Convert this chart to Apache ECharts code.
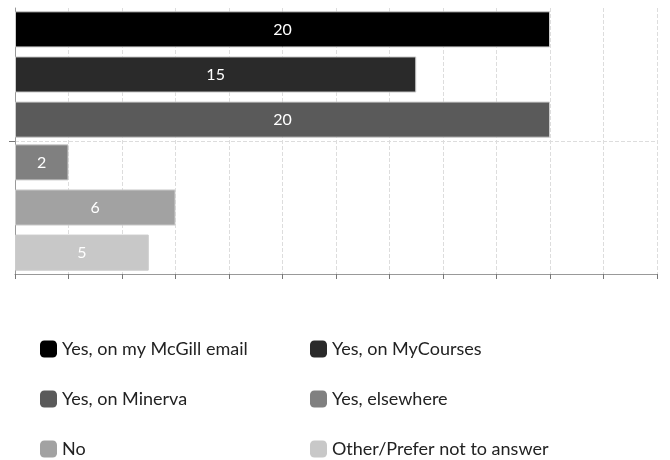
<!DOCTYPE html>
<html>
<head>
<meta charset="utf-8">
<script src="https://cdn.jsdelivr.net/npm/echarts@6/dist/echarts.min.js"></script>
<style>html,body{margin:0;padding:0;background:#fff}#c{width:670px;height:460px}</style>
</head>
<body>
<div id="c"></div>
<script>
const categories = ['Group A', 'Group B'];
const seriesNames = ['Yes, on my McGill email', 'Yes, on MyCourses', 'Yes, on Minerva', 'Yes, elsewhere', 'No', 'Other/Prefer not to answer'];
const mcgillEmail = [20, null];
const myCourses = [15, null];
const minerva = [20, null];
const elsewhere = [null, 2];
const no = [null, 6];
const other = [null, 5];
const xTicks = [0, 2, 4, 6, 8, 10, 12, 14, 16, 18, 20, 22, 24];

const colors = ['#000000', '#2a2a2a', '#5a5a5a', '#808080', '#a2a2a2', '#c8c8c8'];
const values = [mcgillEmail, myCourses, minerva, elsewhere, no, other];
const stacks = ['a', 'b', 'c', 'a', 'b', 'c'];
const font = 'Lato';

const legendLefts = [40, 310];
const legendTops = [340, 390, 440];

const chart = echarts.init(document.getElementById('c'));
chart.setOption({
  animation: false,
  textStyle: { fontFamily: font },
  grid: { left: 15, right: 13, top: 8, bottom: 186, containLabel: false },
  xAxis: {
    type: 'value', min: xTicks[0], max: xTicks[xTicks.length - 1], interval: 2,
    axisLabel: { show: false },
    axisLine: { show: true, lineStyle: { color: '#999' } },
    axisTick: { show: true, length: 5, lineStyle: { color: '#777' } },
    splitLine: { show: true, lineStyle: { type: 'dashed', color: '#ddd' } }
  },
  yAxis: [
    {
      type: 'category', data: categories, inverse: true,
      axisLabel: { show: false }, axisLine: { show: false },
      axisTick: { show: false }, splitLine: { show: false }
    },
    {
      type: 'value', min: 0, max: categories.length, interval: 1, position: 'left',
      axisLabel: { show: false },
      axisLine: { show: true, onZero: false, lineStyle: { color: '#999' } },
      axisTick: { show: true, length: 6, customValues: [1], lineStyle: { color: '#777' } },
      splitLine: { show: true, lineStyle: { type: 'dashed', color: '#ddd' } }
    }
  ],
  legend: seriesNames.map((name, i) => ({
    left: legendLefts[i % 2], top: legendTops[Math.floor(i / 2)], padding: 0,
    itemWidth: 17, itemHeight: 17, icon: 'roundRect', itemStyle: { borderWidth: 0 },
    textStyle: { fontSize: 18, color: '#222', fontFamily: font },
    data: [name]
  })),
  series: seriesNames.map((name, i) => ({
    name, type: 'bar', stack: stacks[i], data: values[i], yAxisIndex: 0,
    barCategoryGap: '5%', barGap: '25%',
    itemStyle: { color: colors[i], borderColor: '#ccc', borderWidth: 1 },
    label: { show: true, position: 'inside', color: '#fff', fontSize: 16, fontFamily: font,
      formatter: p => (p.value == null ? '' : p.value) }
  }))
});
</script>
</body>
</html>
